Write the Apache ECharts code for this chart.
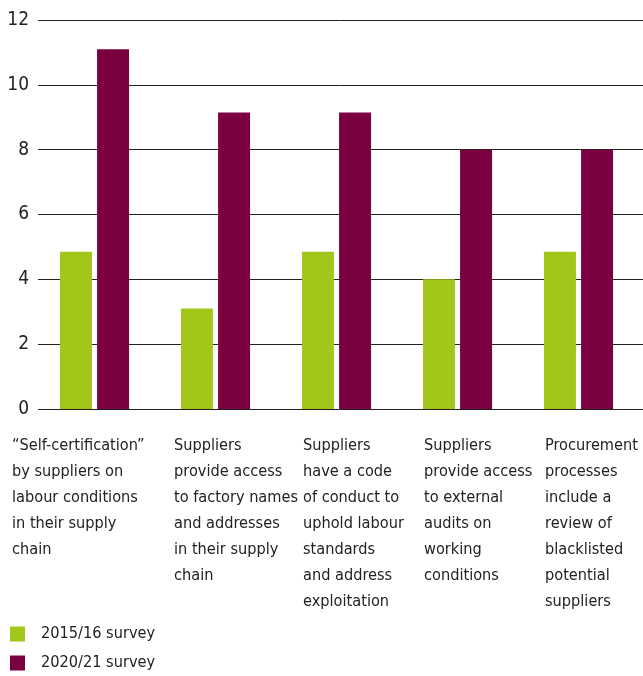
<!DOCTYPE html>
<html>
<head>
<meta charset="utf-8">
<script src="https://cdn.jsdelivr.net/npm/echarts@6/dist/echarts.min.js"></script>
<style>
html,body{margin:0;padding:0;background:#fff;}
#chart{width:643px;height:676px;}
</style>
</head>
<body>
<div id="chart"></div>
<script>
var categories = [
  '\u201CSelf-certification\u201D\nby suppliers on\nlabour conditions\nin their supply\nchain',
  'Suppliers\nprovide access\nto factory names\nand addresses\nin their supply\nchain',
  'Suppliers\nhave a code\nof conduct to\nuphold labour\nstandards\nand address\nexploitation',
  'Suppliers\nprovide access\nto external\naudits on\nworking\nconditions',
  'Procurement\nprocesses\ninclude a\nreview of\nblacklisted\npotential\nsuppliers'
];
var seriesNames = ['2015/16 survey', '2020/21 survey'];
var survey2015 = [4.85, 3.1, 4.85, 4.0, 4.85];
var survey2020 = [11.1, 9.15, 9.15, 8.0, 8.0];
var yTicks = [0, 2, 4, 6, 8, 10, 12];

var FONT = '"Liberation Sans Narrow", "DejaVu Sans Condensed", sans-serif';
var labelShift = [-82.5, -41.5, -33.5, -33.5, -33.5];
var LABEL_SIZE = 16.2;

var chart = echarts.init(document.getElementById('chart'), null, {renderer: 'canvas'});
chart.setOption({
  animation: false,
  backgroundColor: '#ffffff',
  grid: [
    {left: 38, right: 0, top: 20, bottom: 267, outerBoundsMode: 'none', containLabel: false},
    {left: 34, right: 4, top: 20, bottom: 267, outerBoundsMode: 'none', containLabel: false}
  ],
  legend: {
    orient: 'vertical',
    left: 10,
    top: 626,
    padding: 0,
    itemWidth: 15,
    itemHeight: 15,
    itemGap: 13,
    icon: 'rect',
    textStyle: {fontFamily: FONT, fontSize: LABEL_SIZE, color: '#222', lineHeight: 15, padding: [0, 0, 0, 11]},
    data: seriesNames
  },
  xAxis: [
    {gridIndex: 0, type: 'category', data: categories, show: false},
    {
      gridIndex: 1, type: 'category',
      data: categories.map(function (c, i) {
        return {value: c, textStyle: {align: 'left', verticalAlign: 'top', padding: [0, 0, 0, labelShift[i]]}};
      }),
      axisLine: {show: false}, axisTick: {show: false},
      axisLabel: {
        interval: 0, align: 'left', verticalAlign: 'top', margin: 24, hideOverlap: false,
        fontFamily: FONT, fontSize: LABEL_SIZE, lineHeight: 26, color: '#222'
      }
    }
  ],
  yAxis: [
    {
      gridIndex: 0, type: 'value', min: 0, max: 12, interval: 2,
      axisLine: {show: false}, axisTick: {show: false},
      axisLabel: {margin: 9, fontFamily: FONT, fontSize: 19, color: '#222',
        formatter: function (v) { return yTicks.indexOf(v) >= 0 ? String(v) : ''; }},
      splitLine: {show: true, lineStyle: {color: '#222', width: 1}}
    },
    {
      gridIndex: 1, type: 'value', min: 0, max: 12, interval: 2, show: false,
      splitLine: {show: false}
    }
  ],
  series: [
    {
      name: seriesNames[0], type: 'bar', xAxisIndex: 1, yAxisIndex: 1,
      data: survey2015, barWidth: 32, barGap: '16%',
      itemStyle: {color: '#a2c61a'}
    },
    {
      name: seriesNames[1], type: 'bar', xAxisIndex: 1, yAxisIndex: 1,
      data: survey2020, barWidth: 32, barGap: '16%',
      itemStyle: {color: '#7a0040'}
    }
  ]
});
</script>
</body>
</html>
